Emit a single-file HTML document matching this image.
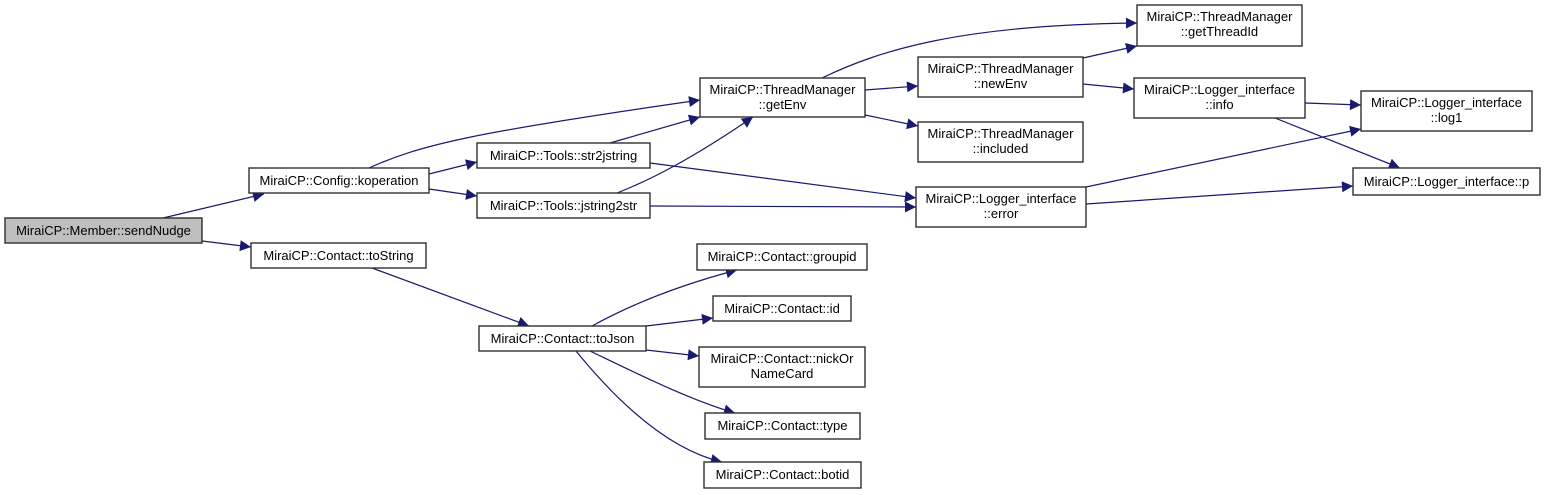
<!DOCTYPE html>
<html><head><meta charset="utf-8"><style>
html,body{margin:0;padding:0;background:#fff;}
svg{display:block;}
text{font-family:"Liberation Sans",Arial,sans-serif;font-size:13px;fill:#000;}
.n{fill:#fff;stroke:#303030;stroke-width:1.4;}
.e{fill:none;stroke:#191970;stroke-width:1.2;}
</style></head><body>
<svg width="1545" height="495" viewBox="0 0 1545 495" xmlns="http://www.w3.org/2000/svg">
<defs><marker id="a" viewBox="0 0 10 10" refX="10" refY="5" markerWidth="16" markerHeight="11" markerUnits="userSpaceOnUse" orient="auto"><path d="M0,0L10,5L0,10z" fill="#191970"/></marker></defs>
<g class="e" marker-end="url(#a)">
<path d="M163,218 L264,194"/>
<path d="M202,241 L251,247"/>
<path d="M369,168 C420,145 470,133 700,100"/>
<path d="M429,174 L477,162"/>
<path d="M429,189 L477,196"/>
<path d="M610,143 L700,117"/>
<path d="M617,193 C650,180 690,160 753,117"/>
<path d="M650,163 L916,198"/>
<path d="M650,206 L916,207"/>
<path d="M865,90 L918,86"/>
<path d="M865,115 L918,126"/>
<path d="M822,78 C880,50 960,25 1137,23"/>
<path d="M1083,58 L1137,46"/>
<path d="M1083,84 L1134,89"/>
<path d="M1086,187 L1361,129"/>
<path d="M1086,204 L1353,186"/>
<path d="M1305,103 L1361,105"/>
<path d="M1275,118 L1400,168"/>
<path d="M372,268 L529,326"/>
<path d="M592,326 C630,305 680,285 737,270"/>
<path d="M646,326 L713,318"/>
<path d="M646,350 L699,356"/>
<path d="M590,351 C640,375 690,400 735,413"/>
<path d="M576,351 C620,405 670,450 722,462"/>
</g>
<g>
<rect x="5" y="218" width="197" height="25" fill="#bfbfbf" stroke="#303030" stroke-width="1.4"/>
<text x="103.5" y="235" text-anchor="middle">MiraiCP::Member::sendNudge</text>
<rect class="n" x="249" y="168" width="180" height="25"/><text x="339" y="185" text-anchor="middle">MiraiCP::Config::koperation</text>
<rect class="n" x="251" y="243" width="175" height="25"/><text x="338.5" y="260" text-anchor="middle">MiraiCP::Contact::toString</text>
<rect class="n" x="477" y="143" width="173" height="25"/><text x="563.5" y="160" text-anchor="middle">MiraiCP::Tools::str2jstring</text>
<rect class="n" x="477" y="193" width="173" height="25"/><text x="563.5" y="210" text-anchor="middle">MiraiCP::Tools::jstring2str</text>
<rect class="n" x="700" y="78" width="165" height="39"/><text x="782.5" y="94" text-anchor="middle">MiraiCP::ThreadManager</text><text x="782.5" y="109" text-anchor="middle">::getEnv</text>
<rect class="n" x="918" y="57" width="165" height="40"/><text x="1000.5" y="73" text-anchor="middle">MiraiCP::ThreadManager</text><text x="1000.5" y="88" text-anchor="middle">::newEnv</text>
<rect class="n" x="918" y="122" width="165" height="40"/><text x="1000.5" y="138" text-anchor="middle">MiraiCP::ThreadManager</text><text x="1000.5" y="153" text-anchor="middle">::included</text>
<rect class="n" x="916" y="187" width="170" height="40"/><text x="1001" y="203" text-anchor="middle">MiraiCP::Logger_interface</text><text x="1001" y="218" text-anchor="middle">::error</text>
<rect class="n" x="1137" y="5" width="165" height="41"/><text x="1219.5" y="21" text-anchor="middle">MiraiCP::ThreadManager</text><text x="1219.5" y="36" text-anchor="middle">::getThreadId</text>
<rect class="n" x="1134" y="78" width="171" height="40"/><text x="1219.5" y="94" text-anchor="middle">MiraiCP::Logger_interface</text><text x="1219.5" y="109" text-anchor="middle">::info</text>
<rect class="n" x="1361" y="91" width="171" height="40"/><text x="1446.5" y="107" text-anchor="middle">MiraiCP::Logger_interface</text><text x="1446.5" y="122" text-anchor="middle">::log1</text>
<rect class="n" x="1353" y="168" width="187" height="27"/><text x="1446.5" y="186" text-anchor="middle">MiraiCP::Logger_interface::p</text>
<rect class="n" x="479" y="326" width="167" height="25"/><text x="562.5" y="343" text-anchor="middle">MiraiCP::Contact::toJson</text>
<rect class="n" x="697" y="244" width="170" height="26"/><text x="782" y="261" text-anchor="middle">MiraiCP::Contact::groupid</text>
<rect class="n" x="713" y="296" width="138" height="25"/><text x="782" y="313" text-anchor="middle">MiraiCP::Contact::id</text>
<rect class="n" x="699" y="347" width="166" height="40"/><text x="782" y="363" text-anchor="middle">MiraiCP::Contact::nickOr</text><text x="782" y="378" text-anchor="middle">NameCard</text>
<rect class="n" x="705" y="413" width="155" height="26"/><text x="782.5" y="430" text-anchor="middle">MiraiCP::Contact::type</text>
<rect class="n" x="704" y="462" width="157" height="26"/><text x="782.5" y="479" text-anchor="middle">MiraiCP::Contact::botid</text>
</g>
</svg>
</body></html>
